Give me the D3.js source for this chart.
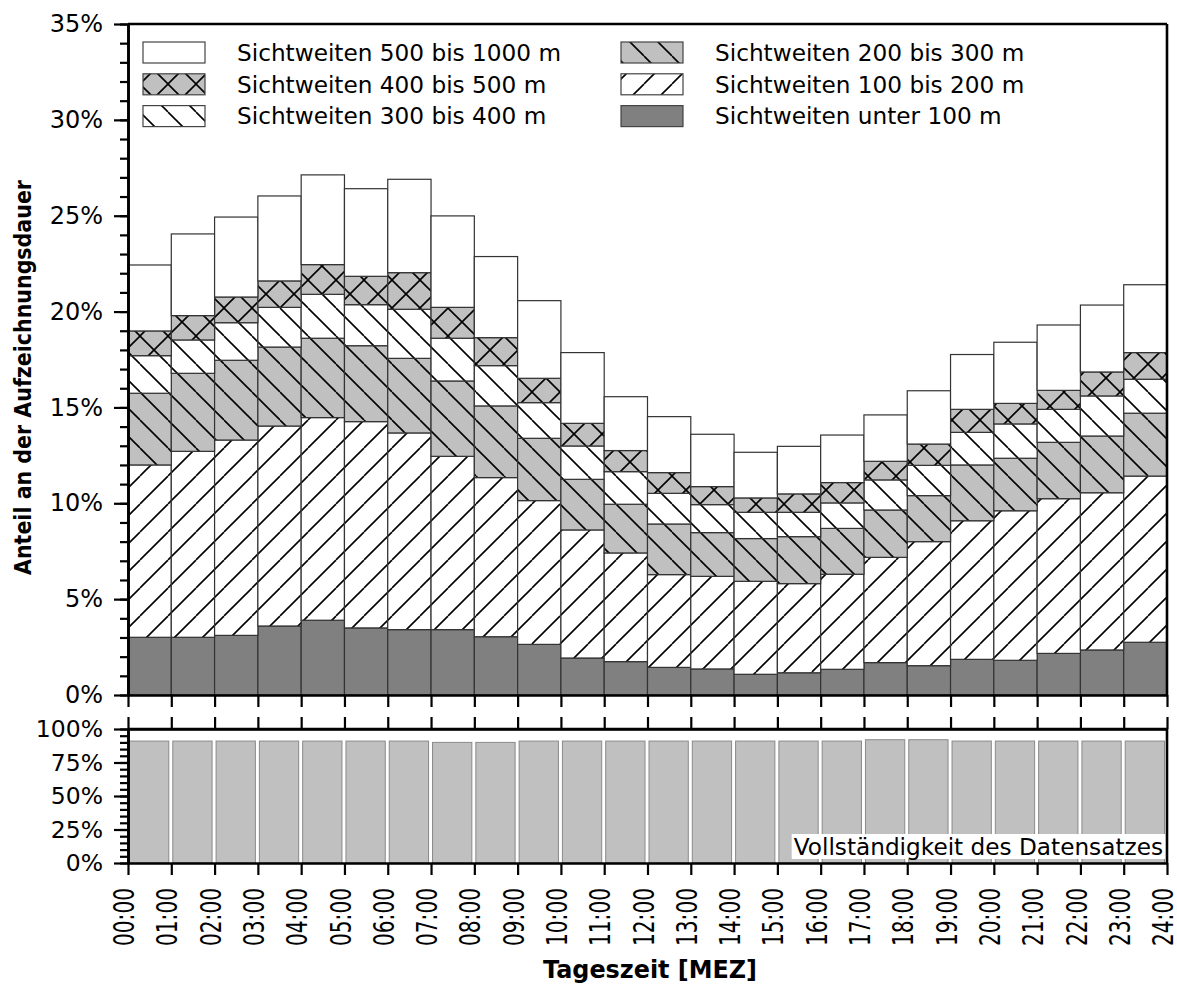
<!DOCTYPE html>
<html>
<head>
<meta charset="utf-8">
<script src="https://cdn.jsdelivr.net/npm/d3@7"></script>
<style>
  html, body { margin: 0; padding: 0; background: #fff; }
  svg { display: block; font-family: "DejaVu Sans", Verdana, sans-serif; }
</style>
</head>
<body>
<svg id="chart" width="1177" height="984"></svg>
<script>
// ---------------- DATA ----------------
const hours = ["00:00","01:00","02:00","03:00","04:00","05:00","06:00","07:00","08:00","09:00","10:00","11:00",
               "12:00","13:00","14:00","15:00","16:00","17:00","18:00","19:00","20:00","21:00","22:00","23:00","24:00"];

// shares of recording time (%) per hour interval 00-01 ... 23-24
const unter100   = [3.01,3.01,3.11,3.60,3.90,3.50,3.41,3.41,3.04,2.64,1.93,1.74,1.44,1.36,1.08,1.16,1.34,1.69,1.53,1.86,1.81,2.17,2.35,2.75];
const von100bis200 = [8.99,9.70,10.19,10.43,10.57,10.76,10.26,9.04,8.30,7.50,6.68,5.67,4.84,4.83,4.85,4.65,4.96,5.49,6.47,7.23,7.80,8.07,8.20,8.67];
const von200bis300 = [3.74,4.07,4.16,4.12,4.14,3.96,3.89,3.93,3.74,3.25,2.64,2.54,2.64,2.28,2.23,2.45,2.39,2.47,2.40,2.91,2.74,2.94,2.96,3.28];
const von300bis400 = [1.96,1.74,1.96,2.07,2.29,2.14,2.56,2.23,2.10,1.86,1.74,1.70,1.60,1.46,1.37,1.27,1.33,1.57,1.58,1.70,1.79,1.72,2.09,1.77];
const von400bis500 = [1.29,1.27,1.34,1.38,1.55,1.48,1.91,1.61,1.46,1.27,1.18,1.10,1.08,0.94,0.75,0.96,1.06,0.97,1.11,1.20,1.07,0.99,1.25,1.39];
const von500bis1000 = [3.44,4.26,4.17,4.43,4.68,4.57,4.87,4.77,4.23,4.05,3.69,2.81,2.92,2.73,2.38,2.48,2.48,2.42,2.78,2.86,3.19,3.41,3.49,3.54];

// completeness of the data set (%)
const vollstaendigkeit = [91,91,91,91,91,91,91,90,90,91,91,91,91,91,91,91,91,92,92,91,91,91,91,91];

const seriesKeys = ["u100","s100","s200","s300","s400","s500"];
const seriesNames = {
  u100: "Sichtweiten unter 100 m",
  s100: "Sichtweiten 100 bis 200 m",
  s200: "Sichtweiten 200 bis 300 m",
  s300: "Sichtweiten 300 bis 400 m",
  s400: "Sichtweiten 400 bis 500 m",
  s500: "Sichtweiten 500 bis 1000 m"
};
const legendCol1 = ["s500","s400","s300"];
const legendCol2 = ["s200","s100","u100"];
const yTicksTop = [0,5,10,15,20,25,30,35];
const yTicksBottom = [0,25,50,75,100];

const table = unter100.map((v,i) => ({
  i, u100: v, s100: von100bis200[i], s200: von200bis300[i],
  s300: von300bis400[i], s400: von400bis500[i], s500: von500bis1000[i]
}));

// ---------------- LAYOUT ----------------
const svg = d3.select("#chart");
const L = 128, R = 1167;
const topT = 24, topB = 695;
const botT = 729, botB = 863;

const x = d3.scaleLinear().domain([0,24]).range([L,R]);
const yTop = d3.scaleLinear().domain([0,35]).range([topB,topT]);
const yBot = d3.scaleLinear().domain([0,100]).range([botB,botT]);

// ---------------- PATTERNS ----------------
const defs = svg.append("defs");
const P = 28;
function makePattern(id, bg, fwd, back) {
  const p = defs.append("pattern").attr("id", id).attr("patternUnits","userSpaceOnUse")
    .attr("width", P).attr("height", P);
  p.append("rect").attr("width",P).attr("height",P).attr("fill",bg);
  if (fwd) {
    [-P,0,P].forEach(dx => {
      p.append("line").attr("x1",dx).attr("y1",P).attr("x2",dx+P).attr("y2",0)
        .attr("stroke","#000").attr("stroke-width",1.6);
    });
  }
  if (back) {
    [-P,0,P].forEach(dx => {
      p.append("line").attr("x1",dx).attr("y1",0).attr("x2",dx+P).attr("y2",P)
        .attr("stroke","#000").attr("stroke-width",1.6);
    });
  }
}
makePattern("pFwdWhite", "#fff", true, false);
makePattern("pBackWhite", "#fff", false, true);
makePattern("pBackGray", "#c0c0c0", false, true);
makePattern("pCrossGray", "#c0c0c0", true, true);

const fills = {
  u100: "#808080",
  s100: "url(#pFwdWhite)",
  s200: "url(#pBackGray)",
  s300: "url(#pBackWhite)",
  s400: "url(#pCrossGray)",
  s500: "#ffffff"
};

// ---------------- TOP PANEL BARS ----------------
const stack = d3.stack().keys(seriesKeys)(table);
const gBars = svg.append("g");
stack.forEach(layer => {
  gBars.append("g").selectAll("rect").data(layer).join("rect")
    .attr("x", d => x(d.data.i))
    .attr("width", d => x(d.data.i + 1) - x(d.data.i))
    .attr("y", d => yTop(d[1]))
    .attr("height", d => yTop(d[0]) - yTop(d[1]))
    .attr("fill", fills[layer.key])
    .attr("stroke", "#333")
    .attr("stroke-width", 1.2);
});

// ---------------- BOTTOM PANEL BARS ----------------
svg.append("g").selectAll("rect").data(vollstaendigkeit).join("rect")
  .attr("x", (d,i) => x(i) + 1.5)
  .attr("width", (d,i) => x(i+1) - x(i) - 4)
  .attr("y", d => yBot(d))
  .attr("height", d => yBot(0) - yBot(d))
  .attr("fill", "#c0c0c0")
  .attr("stroke", "#8a8a8a")
  .attr("stroke-width", 1);

// label box
const lbl = svg.append("g");
const lblText = lbl.append("text")
  .attr("x", R - 4).attr("y", botB - 8)
  .attr("text-anchor","end")
  .attr("font-size", 23.2)
  .attr("fill","#000")
  .text("Vollständigkeit des Datensatzes");
const bb = lblText.node().getBBox();
lbl.insert("rect","text").attr("x", bb.x - 2).attr("y", bb.y + 1)
  .attr("width", bb.width + 4).attr("height", bb.height - 2).attr("fill","#fff");

// ---------------- AXES & FRAMES ----------------
const axW = 2.6;
const hourTicks = d3.range(0,25);

svg.append("line").attr("x1",L).attr("x2",R).attr("y1",topT).attr("y2",topT)
  .attr("stroke","#000").attr("stroke-width",axW);
svg.append("line").attr("x1",R).attr("x2",R).attr("y1",topT).attr("y2",topB)
  .attr("stroke","#000").attr("stroke-width",axW);
svg.append("line").attr("x1",R).attr("x2",R).attr("y1",botT).attr("y2",botB)
  .attr("stroke","#000").attr("stroke-width",axW);

function styleAxis(g) {
  g.selectAll(".domain").attr("stroke","#000").attr("stroke-width",axW);
  g.selectAll(".tick line").attr("stroke","#000").attr("stroke-width",2.2);
}

const gxTop = svg.append("g").attr("transform",`translate(0,${topB})`)
  .call(d3.axisBottom(x).tickValues(hourTicks).tickSize(12).tickSizeOuter(0).tickFormat(""));
styleAxis(gxTop);

const gxBotTop = svg.append("g").attr("transform",`translate(0,${botT})`)
  .call(d3.axisTop(x).tickValues(hourTicks).tickSize(12).tickSizeOuter(0).tickFormat(""));
styleAxis(gxBotTop);

const gxBot = svg.append("g").attr("transform",`translate(0,${botB})`)
  .call(d3.axisBottom(x).tickValues(hourTicks).tickSize(12).tickSizeOuter(0).tickFormat(i => hours[i]));
styleAxis(gxBot);
gxBot.selectAll(".tick text")
  .attr("font-size", 28)
  .attr("font-family", "DejaVu Sans, Verdana, sans-serif")
  .attr("fill","#000")
  .attr("text-anchor","end")
  .attr("textLength", 58)
  .attr("lengthAdjust", "spacingAndGlyphs")
  .attr("transform","rotate(-90)")
  .attr("x", -25).attr("y", 0).attr("dy","0.2em");

const gyTopMinor = svg.append("g").attr("transform",`translate(${L},0)`)
  .call(d3.axisLeft(yTop).tickValues(d3.range(0,36,1)).tickSize(8).tickSizeOuter(0).tickFormat(""));
styleAxis(gyTopMinor);
const gyTop = svg.append("g").attr("transform",`translate(${L},0)`)
  .call(d3.axisLeft(yTop).tickValues(yTicksTop).tickSize(14).tickSizeOuter(0).tickFormat(d => d + "%"));
styleAxis(gyTop);
gyTop.selectAll(".tick text").attr("font-size",24).attr("font-family","DejaVu Sans, Verdana, sans-serif")
  .attr("fill","#000").attr("x",-25);

const gyBotMinor = svg.append("g").attr("transform",`translate(${L},0)`)
  .call(d3.axisLeft(yBot).tickValues(d3.range(0,101,5)).tickSize(8).tickSizeOuter(0).tickFormat(""));
styleAxis(gyBotMinor);
const gyBot = svg.append("g").attr("transform",`translate(${L},0)`)
  .call(d3.axisLeft(yBot).tickValues(yTicksBottom).tickSize(14).tickSizeOuter(0).tickFormat(d => d + "%"));
styleAxis(gyBot);
gyBot.selectAll(".tick text").attr("font-size",23.5).attr("font-family","DejaVu Sans, Verdana, sans-serif")
  .attr("fill","#000").attr("x",-25);
svg.append("line").attr("x1",L).attr("x2",R).attr("y1",botT).attr("y2",botT)
  .attr("stroke","#000").attr("stroke-width",axW);

// ---------------- TITLES ----------------
svg.append("text")
  .attr("transform", `translate(31,${(180+575)/2}) rotate(-90)`)
  .attr("text-anchor","middle")
  .attr("font-size",22.5).attr("font-weight","bold")
  .attr("textLength", 395).attr("lengthAdjust","spacingAndGlyphs")
  .text("Anteil an der Aufzeichnungsdauer");

svg.append("text")
  .attr("x", 650).attr("y", 978)
  .attr("text-anchor","middle")
  .attr("font-size",24).attr("font-weight","bold")
  .attr("textLength", 214).attr("lengthAdjust","spacingAndGlyphs")
  .text("Tageszeit [MEZ]");

// ---------------- LEGEND ----------------
const legend = svg.append("g");
function legendColumn(keys, sx, tx) {
  keys.forEach((k, j) => {
    const cy = 52.5 + j * 31.8;
    legend.append("rect")
      .attr("x", sx).attr("y", cy - 10.5).attr("width", 62).attr("height", 21)
      .attr("fill", fills[k]).attr("stroke", "#444").attr("stroke-width", 1.2);
    legend.append("text")
      .attr("x", tx).attr("y", cy).attr("dy","0.36em")
      .attr("font-size", 23.2).attr("fill","#000")
      .text(seriesNames[k]);
  });
}
legendColumn(legendCol1, 143, 237);
legendColumn(legendCol2, 621, 715);
</script>
</body>
</html>
